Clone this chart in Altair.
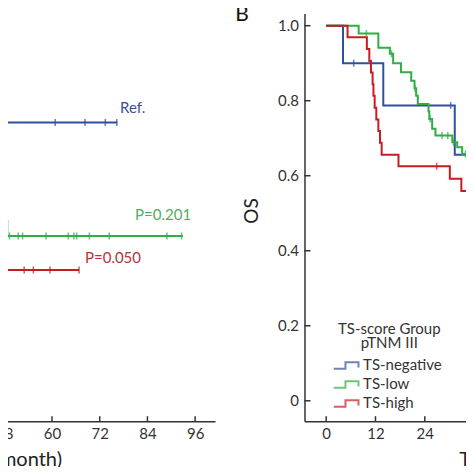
import altair as alt
import pandas as pd

GROUPS = ["TS-negative", "TS-low", "TS-high"]
COLORS = ["#2f4f9f", "#2fae45", "#c81c24"]

# ---------------- Panel A (right part visible) ----------------
a_neg_t = [46.0, 76.4]
a_neg_s = [0.742, 0.742]
a_neg_cens = [48.4, 60.8, 68.3, 73.4, 76.3]

a_low_t = [46.0, 48.2, 48.75, 92.9]
a_low_s = [0.512, 0.480, 0.439, 0.439]
a_low_cens = [49.3, 51.5, 52.6, 58.5, 64.1, 65.5, 66.2, 69.4, 74.4, 88.9, 92.6]

a_high_t = [46.0, 66.8]
a_high_s = [0.349, 0.349]
a_high_cens = [53.0, 55.3, 59.5, 66.8]

a_labels = ["Ref.", "P=0.201", "P=0.050"]
a_label_t = [77.1, 80.9, 68.3]
a_label_s = [0.780, 0.494, 0.381]
a_label_colors = ["#3d4f9a", "#4caf5a", "#b8323a"]

# ---------------- Panel B ----------------
b_neg_t = [0, 4.1, 13.9, 31.3, 36.5]
b_neg_s = [1.0, 0.900, 0.787, 0.656, 0.656]
b_neg_cens = [6.7, 30.3]

b_low_t = [0, 7.9, 12.7, 15.5, 16.3, 18.2, 20.7, 21.5, 21.9, 22.3, 24.9, 25.1,
           25.8, 26.6, 30.7, 31.9, 33.1, 36.5]
b_low_s = [1.0, 0.979, 0.941, 0.925, 0.900, 0.876, 0.853, 0.833, 0.813, 0.791,
           0.771, 0.751, 0.725, 0.707, 0.689, 0.676, 0.658, 0.658]
b_low_cens = [9.8, 15.9, 21.6, 25.3, 28.2, 29.6, 31.0, 33.9, 35.1, 35.9]

b_high_t = [0, 5.2, 9.9, 10.5, 10.9, 11.3, 11.5, 11.8, 12.2, 12.7, 13.1, 13.5,
            17.6, 30.1, 32.9, 36.5]
b_high_s = [1.0, 0.969, 0.938, 0.906, 0.875, 0.844, 0.813, 0.781, 0.750, 0.719,
            0.688, 0.656, 0.625, 0.592, 0.559, 0.559]
b_high_cens = [26.9, 35.9]

x_ticks = [0, 12, 24, 36, 48, 60, 72, 84, 96]
y_ticks = [0, 0.2, 0.4, 0.6, 0.8, 1.0]

X_DOMAIN = [-5.28, 101]
Y_DOMAIN = [-0.0544, 1.0325]
WA, WB, H = 422.5, 436.6, 407.7
FONT = "Lato"
AX = "#333333"


def step_val(ts, ss, t):
    v = ss[0]
    for ti, si in zip(ts, ss):
        if ti <= t:
            v = si
    return v


def curves(series):
    rows = []
    for g, ts, ss in series:
        for t, s in zip(ts, ss):
            rows.append({"t": t, "s": s, "g": g})
    return pd.DataFrame(rows)


def censors(series):
    rows = []
    for g, ts, ss, cs in series:
        for c in cs:
            rows.append({"t": c, "s": step_val(ts, ss, c), "g": g})
    return pd.DataFrame(rows)


dfA = curves([("TS-negative", a_neg_t, a_neg_s), ("TS-low", a_low_t, a_low_s),
              ("TS-high", a_high_t, a_high_s)])
cenA = censors([("TS-negative", a_neg_t, a_neg_s, a_neg_cens),
                ("TS-low", a_low_t, a_low_s, a_low_cens),
                ("TS-high", a_high_t, a_high_s, a_high_cens)])
labA = pd.DataFrame({"t": a_label_t, "s": a_label_s, "label": a_labels, "c": a_label_colors})

dfB = curves([("TS-negative", b_neg_t, b_neg_s), ("TS-low", b_low_t, b_low_s),
              ("TS-high", b_high_t, b_high_s)])
cenB = censors([("TS-negative", b_neg_t, b_neg_s, b_neg_cens),
                ("TS-low", b_low_t, b_low_s, b_low_cens),
                ("TS-high", b_high_t, b_high_s, b_high_cens)])
panelB_tag = pd.DataFrame({"t": [-20.5], "s": [1.029], "label": ["B"]})

xticks_df = pd.DataFrame({"t": x_ticks})
yticks_df = pd.DataFrame({"s": y_ticks})

xs = alt.Scale(domain=X_DOMAIN, nice=False, zero=False)
ys = alt.Scale(domain=Y_DOMAIN, nice=False, zero=False)
cscale = alt.Scale(domain=GROUPS, range=COLORS)

x_axis_A = alt.Axis(values=x_ticks, title="Time (month)", labelFontSize=15,
                    titleFontSize=20, labelPadding=5, titlePadding=8,
                    titleAlign="right", titleX=269)
x_axis_B = alt.Axis(values=x_ticks, title="Time (month)", labelFontSize=15,
                    titleFontSize=20, labelPadding=5, titlePadding=8,
                    titleAlign="left", titleX=154.3)

# ---- Panel A ----
A_lines = alt.Chart(dfA).mark_line(interpolate="step-after", strokeWidth=2, clip=True).encode(
    x=alt.X("t:Q", scale=xs, axis=x_axis_A),
    y=alt.Y("s:Q", scale=ys, axis=None),
    color=alt.Color("g:N", scale=cscale, legend=None),
)
A_cens = alt.Chart(cenA).mark_tick(orient="vertical", size=7, thickness=1.6, clip=True).encode(
    x=alt.X("t:Q", scale=xs, title="Time (month)"),
    y=alt.Y("s:Q", scale=ys),
    color=alt.Color("g:N", scale=cscale, legend=None),
)
A_text = alt.Chart(labA).mark_text(align="left", baseline="middle", fontSize=15, font=FONT).encode(
    x=alt.X("t:Q", scale=xs, title="Time (month)"),
    y=alt.Y("s:Q", scale=ys),
    text="label:N",
    color=alt.Color("c:N", scale=None),
)
A_ticks = alt.Chart(xticks_df).mark_rule(color=AX, strokeWidth=1.5).encode(
    x=alt.X("t:Q", scale=xs, title="Time (month)"),
    y=alt.value(H),
    y2=alt.value(H - 5),
)
panelA = alt.layer(A_ticks, A_lines, A_cens, A_text).properties(width=WA, height=H)

# ---- Panel B ----
legend = alt.Legend(
    orient="none", legendX=31.8, legendY=309, padding=0,
    title=["TS-score Group", "pTNM III"], titleAlign="center", titleAnchor="middle",
    titleFontSize=15, titleFontWeight="normal", titleColor="#333333", titleFont=FONT,
    titleLineHeight=14, titlePadding=3.5,
    labelFontSize=15, labelColor="#333333", labelFont=FONT, labelOffset=5.8,
    symbolType="M-1.37,0.34H-0.14V-0.34H1.23V0.2V-0.34H-0.14V0.34Z", symbolSize=361,
    symbolStrokeWidth=2, symbolFillColor="transparent", rowPadding=0,
)
B_lines = alt.Chart(dfB).mark_line(interpolate="step-after", strokeWidth=2, clip=True).encode(
    x=alt.X("t:Q", scale=xs, axis=x_axis_B),
    y=alt.Y("s:Q", scale=ys, axis=alt.Axis(
        values=y_ticks, labelExpr="datum.value == 0 ? '0' : format(datum.value, '.1f')",
        title="OS", titleFontSize=19, titleAngle=270, titleX=-53, titleY=197,
        titleAlign="center", titleBaseline="middle", labelFontSize=15, labelPadding=6)),
    color=alt.Color("g:N", scale=cscale, legend=legend),
)
B_cens = alt.Chart(cenB).mark_tick(orient="vertical", size=7, thickness=1.6, clip=True).encode(
    x=alt.X("t:Q", scale=xs, title="Time (month)"),
    y=alt.Y("s:Q", scale=ys, title="OS"),
    color=alt.Color("g:N", scale=cscale),
)
B_xticks = alt.Chart(xticks_df).mark_rule(color=AX, strokeWidth=1.5).encode(
    x=alt.X("t:Q", scale=xs, title="Time (month)"),
    y=alt.value(H),
    y2=alt.value(H - 5),
)
B_yticks = alt.Chart(yticks_df).mark_rule(color=AX, strokeWidth=1.5).encode(
    y=alt.Y("s:Q", scale=ys, title="OS"),
    x=alt.value(0),
    x2=alt.value(6),
)
B_tag = alt.Chart(panelB_tag).mark_text(fontSize=21, font=FONT, color="#111111",
                                        align="center", baseline="middle").encode(
    x=alt.X("t:Q", scale=xs, title="Time (month)"),
    y=alt.Y("s:Q", scale=ys, title="OS"),
    text="label:N",
)
panelB = alt.layer(B_xticks, B_yticks, B_lines, B_cens, B_tag).properties(width=WB, height=H)

chart = (
    alt.HConcatChart(hconcat=[panelA, panelB], spacing=89, bounds="flush")
    .resolve_scale(color="independent")
    .resolve_legend(color="independent")
    .properties(padding={"left": -215.5, "top": -4.5, "right": -276, "bottom": -2.5})
    .configure_view(stroke=None)
    .configure_axis(domainColor=AX, domainWidth=1.5, labelColor="#333333",
                    titleColor="#222222", labelFont=FONT, titleFont=FONT,
                    ticks=False, grid=False, titleFontWeight="normal")
    .configure_text(font=FONT)
)

chart.save("out.html", embed_options={"renderer": "svg", "actions": False})
